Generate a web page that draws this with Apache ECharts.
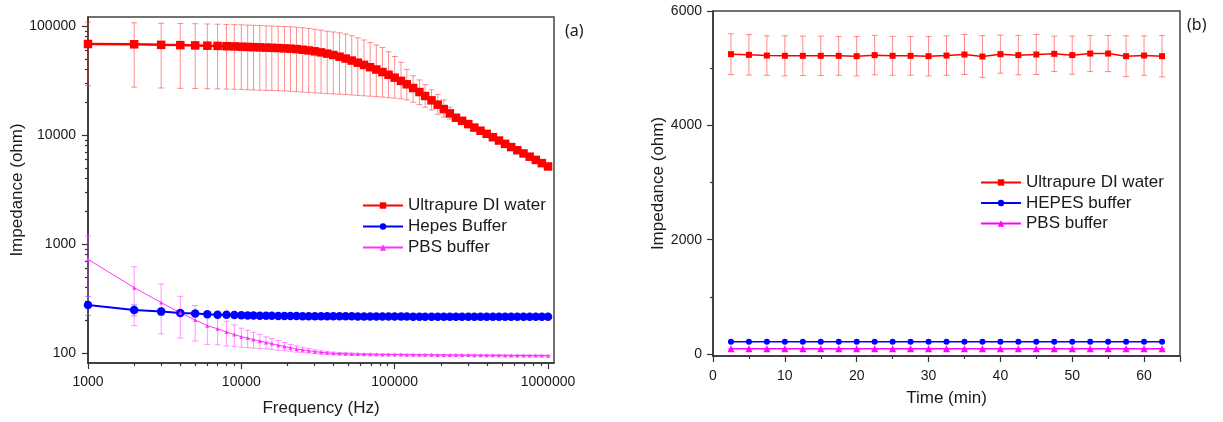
<!DOCTYPE html>
<html><head><meta charset="utf-8">
<script src="https://cdn.jsdelivr.net/npm/echarts@6/dist/echarts.min.js"></script>
<style>html,body{margin:0;padding:0;background:#fff}#c{width:1223px;height:422px}</style>
</head><body><div id="c"></div>
<script>
// ---------- Panel (a): impedance vs frequency ----------
const freqHz = [1000,2000,3000,4000,5000,6000,7000,8000,9000,10000,
  11000,12000,13200,14500,15800,17400,19100,20900,22900,25100,
  27500,30200,33100,36300,39800,43700,47900,52500,57500,63100,
  69200,75900,83200,91200,
  100000,110000,120000,132000,145000,158000,174000,191000,209000,229000,
  251000,275000,302000,331000,363000,398000,437000,479000,525000,575000,
  631000,692000,759000,832000,912000,1000000];
const diWaterA = [68400,68000,67200,66800,66400,66000,65700,65300,65000,64600,
  64300,64000,63700,63400,63100,62800,62400,62000,61400,60600,
  59700,58600,57300,55800,54200,52300,50300,48200,46100,44000,
  41900,39900,37800,35700,
  33600,31400,29200,27000,24800,22800,20800,19000,17300,15800,
  14400,13500,12600,11700,10950,10250,9550,8900,8300,7750,
  7250,6780,6330,5910,5520,5150];
const diWaterAErrUp = [40000,39000,38800,38700,38600,38500,38300,38200,38000,37900,
  37700,37500,37300,37100,36900,36700,36600,36500,36100,35900,
  35300,34900,34200,33700,34000,34300,34200,33300,31900,30500,
  28600,27100,25700,22300,
  18900,15100,10800,8000,7200,6200,5200,4500,3700,2200,
  1100,700,500,400,300,250,200,180,160,140,
  120,110,100,90,80,70];
const diWaterAErrDown = [40000,40500,40200,40000,39700,39400,39200,38900,38700,38400,
  38300,38100,37900,37700,37500,37300,37000,36800,36400,35800,
  35100,34200,33100,31800,30400,28600,26800,24900,23000,21100,
  19200,17400,15500,13700,
  11800,9900,8200,7000,5800,4800,3800,3500,2700,1800,
  800,600,400,300,250,200,180,160,140,120,
  110,100,90,80,70,60];
const hepesA = [276,248,240,233,230,227,225,224,223,222,
  221,221,220,220,219.5,219,219,218.5,218.5,218,
  218,218,217.5,217.5,217,217,217,217,216.5,216.5,
  216.5,216.5,216,216,
  216,216,216,215.5,215.5,215.5,215.5,215.5,215.5,215.5,
  215,215,215,215,215,215,215,215,215,215,
  215,215,215,215,215,215];
const hepesAErr = [55,29,18,13,10,8,7,6,5,5,
  4,4,4,4,3,3,3,3,3,3,
  3,3,3,3,2,2,2,2,2,2,
  2,2,2,2,
  2,2,2,2,2,2,2,2,2,2,
  2,2,2,2,2,2,2,2,2,2,
  2,2,2,2,2,2];
const pbsA = [724,398,290,234,201,178,167,156,148,141,
  137,133,129,125,122,118,115,112,109,107,
  105,103,101.5,100.5,99.5,99,98.5,98,97.8,97.6,
  97.4,97.2,97,97,
  97,96.8,96.6,96.5,96.4,96.3,96.2,96.1,96,96,
  95.9,95.8,95.7,95.6,95.5,95.4,95.3,95.2,95.1,95,
  95,95,94.9,94.8,94.7,94.6];
const pbsAErr = [460,220,140,97,72,58,48,40,33,28,
  25,22,19,16,14,12,10,8,7,6,
  5,4,3.5,3,2.5,2,2,2,1.5,1.5,
  1,1,1,1,
  1,1,1,1,1,1,1,1,1,1,
  1,1,1,1,1,1,1,1,1,1,
  1,1,1,1,1,1];
const freqTickLabels = [1000,10000,100000,1000000];
const freqMinorTicks = [2000,3000,4000,5000,6000,7000,8000,9000,
  20000,30000,40000,50000,60000,70000,80000,90000,
  200000,300000,400000,500000,600000,700000,800000,900000];
const impTickLabelsA = [100,1000,10000,100000];
const impMinorTicksA = [200,300,400,500,600,700,800,900,
  2000,3000,4000,5000,6000,7000,8000,9000,
  20000,30000,40000,50000,60000,70000,80000,90000];

// ---------- Panel (b): impedance vs time ----------
const timeMin = [2.5,5,7.5,10,12.5,15,17.5,20,22.5,25,27.5,30,32.5,35,37.5,40,42.5,45,47.5,50,52.5,55,57.5,60,62.5];
const diWaterB = [5245,5233,5221,5216,5216,5216,5216,5210,5228,5216,5216,5210,5221,5239,5204,5245,5228,5239,5251,5228,5256,5256,5210,5221,5210];
const diWaterBErr = [357,354,345,350,345,345,340,345,345,340,340,345,345,350,365,333,345,350,310,333,316,316,357,345,362];
const hepesB = [214,214,213,214,213,213,213,214,213,213,213,213,213,214,213,213,213,213,213,213,213,213,213,213,213];
const hepesBErr = [8,8,8,8,8,8,8,8,8,8,8,8,8,8,8,8,8,8,8,8,8,8,8,8,8];
const pbsB = [90,90,90,90,90,90,90,90,90,90,90,90,90,90,90,90,90,90,90,90,90,90,90,90,90];
const pbsBErr = [6,6,6,6,6,6,6,6,6,6,6,6,6,6,6,6,6,6,6,6,6,6,6,6,6];
const impTickLabelsB = [0,2000,4000,6000];
const impMinorTicksB = [1000,3000,5000];

const FONT = '"Liberation Sans", Arial, sans-serif';
const AX = '#333';
const TXT = '#1a1a1a';

function pairs(xs, vs) { return xs.map((x, i) => [x, vs[i]]); }
function errData(xs, vs, down, up) { return xs.map((x, i) => [x, vs[i] - down[i], vs[i] + up[i]]); }
function errSeries(xi, yi, data, color, cap) {
  return {
    type: 'custom', xAxisIndex: xi, yAxisIndex: yi, z: 1, silent: true,
    encode: { x: 0, y: [1, 2] },
    renderItem: function (params, api) {
      const x = api.value(0), lo = api.value(1), hi = api.value(2);
      const p1 = api.coord([x, lo]), p2 = api.coord([x, hi]);
      const st = { stroke: color, lineWidth: 1 };
      return { type: 'group', children: [
        { type: 'line', shape: { x1: p1[0], y1: p1[1], x2: p2[0], y2: p2[1] }, style: st },
        { type: 'line', shape: { x1: p1[0] - cap, y1: p1[1], x2: p1[0] + cap, y2: p1[1] }, style: st },
        { type: 'line', shape: { x1: p2[0] - cap, y1: p2[1], x2: p2[0] + cap, y2: p2[1] }, style: st }
      ]};
    },
    data: data
  };
}
function lineSeries(name, xi, yi, data, color, symbol, size, width) {
  return {
    type: 'line', name: name, xAxisIndex: xi, yAxisIndex: yi, z: 3,
    data: data, symbol: symbol, symbolSize: size, showAllSymbol: true,
    lineStyle: { color: color, width: width },
    itemStyle: { color: color },
    emphasis: { disabled: true }, animation: false
  };
}
const intFmt = v => String(Math.round(v));
const nameStyle = { fontSize: 17, color: TXT, fontFamily: FONT };
const labelStyle = { fontSize: 14, color: TXT, fontFamily: FONT };
const mainLine = { show: true, onZero: false, lineStyle: { color: AX, width: 1.5 } };

const chart = echarts.init(document.getElementById('c'));
chart.setOption({
  animation: false,
  textStyle: { fontFamily: FONT },
  grid: [
    { left: 88, top: 17, width: 466, height: 346, show: true, borderColor: '#444', borderWidth: 1.5, outerBoundsMode: 'none' },
    { left: 713, top: 11, width: 467, height: 345, show: true, borderColor: '#444', borderWidth: 1.5, outerBoundsMode: 'none' }
  ],
  xAxis: [
    { type: 'log', gridIndex: 0, min: 1000, max: 1094000, position: 'bottom',
      axisLine: mainLine,
      axisTick: { show: true, length: 6, lineStyle: { color: AX, width: 1.2 }, customValues: freqTickLabels },
      axisLabel: Object.assign({ margin: 12, formatter: intFmt, customValues: freqTickLabels }, labelStyle),
      splitLine: { show: false },
      name: 'Frequency (Hz)', nameLocation: 'middle', nameGap: 37, nameTextStyle: nameStyle },
    { type: 'log', gridIndex: 0, min: 1000, max: 1094000, position: 'bottom',
      axisLine: { show: false, onZero: false },
      axisTick: { show: true, length: 3, lineStyle: { color: AX, width: 1.2 }, customValues: freqMinorTicks },
      axisLabel: { show: false }, splitLine: { show: false } },
    { type: 'value', gridIndex: 1, min: 0, max: 65, interval: 10, position: 'bottom',
      axisLine: mainLine,
      axisTick: { show: true, length: 6, lineStyle: { color: AX, width: 1.2 } },
      minorTick: { show: true, splitNumber: 2, length: 3, lineStyle: { color: AX, width: 1.2 } },
      axisLabel: Object.assign({ margin: 13, showMaxLabel: false }, labelStyle),
      splitLine: { show: false },
      name: 'Time (min)', nameLocation: 'middle', nameGap: 34, nameTextStyle: nameStyle }
  ],
  yAxis: [
    { type: 'log', gridIndex: 0, min: 81, max: 121000, position: 'left',
      axisLine: mainLine,
      axisTick: { show: true, length: 6, lineStyle: { color: AX, width: 1.2 }, customValues: impTickLabelsA },
      axisLabel: Object.assign({ margin: 12, formatter: intFmt, customValues: impTickLabelsA }, labelStyle),
      splitLine: { show: false },
      name: 'Impedance (ohm)', nameLocation: 'middle', nameGap: 62, nameTextStyle: nameStyle },
    { type: 'log', gridIndex: 0, min: 81, max: 121000, position: 'left',
      axisLine: { show: false, onZero: false },
      axisTick: { show: true, length: 3, lineStyle: { color: AX, width: 1.2 }, customValues: impMinorTicksA },
      axisLabel: { show: false }, splitLine: { show: false } },
    { type: 'value', gridIndex: 1, min: -35, max: 6000, position: 'left',
      axisLine: mainLine,
      axisTick: { show: true, length: 6, lineStyle: { color: AX, width: 1.2 }, customValues: impTickLabelsB },
      axisLabel: Object.assign({ margin: 11, formatter: intFmt, customValues: impTickLabelsB }, labelStyle),
      splitLine: { show: false },
      name: 'Impedance (ohm)', nameLocation: 'middle', nameGap: 45, nameTextStyle: nameStyle },
    { type: 'value', gridIndex: 1, min: -35, max: 6000, position: 'left',
      axisLine: { show: false, onZero: false },
      axisTick: { show: true, length: 3, lineStyle: { color: AX, width: 1.2 }, customValues: impMinorTicksB },
      axisLabel: { show: false }, splitLine: { show: false } }
  ],
  legend: [
    { orient: 'vertical', left: 357, top: 192, itemWidth: 40, itemHeight: 8, itemGap: 4, selectedMode: false,
      textStyle: { fontSize: 17, color: TXT, fontFamily: FONT },
      data: ['Ultrapure DI water', 'Hepes Buffer', 'PBS buffer'] },
    { orient: 'vertical', left: 975, top: 169, itemWidth: 40, itemHeight: 8, itemGap: 3.5, selectedMode: false,
      textStyle: { fontSize: 17, color: TXT, fontFamily: FONT },
      data: ['Ultrapure DI water ', 'HEPES buffer', 'PBS buffer '] }
  ],
  graphic: [
    { type: 'text', left: 565, top: 23, style: { text: '(a)', fontSize: 16, fill: TXT, fontFamily: '"Noto Sans", sans-serif' } },
    { type: 'text', left: 1187, top: 17, style: { text: '(b)', fontSize: 16, fill: TXT, fontFamily: '"Noto Sans", sans-serif' } }
  ],
  series: [
    errSeries(0, 0, errData(freqHz, diWaterA, diWaterAErrDown, diWaterAErrUp), 'rgba(255,50,50,0.55)', 3),
    errSeries(0, 0, errData(freqHz, hepesA, hepesAErr, hepesAErr), 'rgba(90,90,255,0.6)', 3),
    errSeries(0, 0, errData(freqHz, pbsA, pbsAErr, pbsAErr), 'rgba(255,80,255,0.6)', 3),
    lineSeries('Ultrapure DI water', 0, 0, pairs(freqHz, diWaterA), '#ff0000', 'rect', 8.5, 2.5),
    lineSeries('Hepes Buffer', 0, 0, pairs(freqHz, hepesA), '#0000ff', 'circle', 8.5, 2),
    lineSeries('PBS buffer', 0, 0, pairs(freqHz, pbsA), '#ff33ff', 'triangle', 4, 1),
    errSeries(2, 2, errData(timeMin, diWaterB, diWaterBErr, diWaterBErr), 'rgba(255,60,60,0.6)', 3),
    errSeries(2, 2, errData(timeMin, hepesB, hepesBErr, hepesBErr), 'rgba(90,90,255,0.6)', 3),
    errSeries(2, 2, errData(timeMin, pbsB, pbsBErr, pbsBErr), 'rgba(255,80,255,0.6)', 3),
    lineSeries('Ultrapure DI water ', 2, 2, pairs(timeMin, diWaterB), '#ff0000', 'rect', 6, 1.5),
    lineSeries('HEPES buffer', 2, 2, pairs(timeMin, hepesB), '#0000ff', 'circle', 6, 1.5),
    lineSeries('PBS buffer ', 2, 2, pairs(timeMin, pbsB), '#ff00ff', 'triangle', 7, 1.5)
  ]
});
</script></body></html>
